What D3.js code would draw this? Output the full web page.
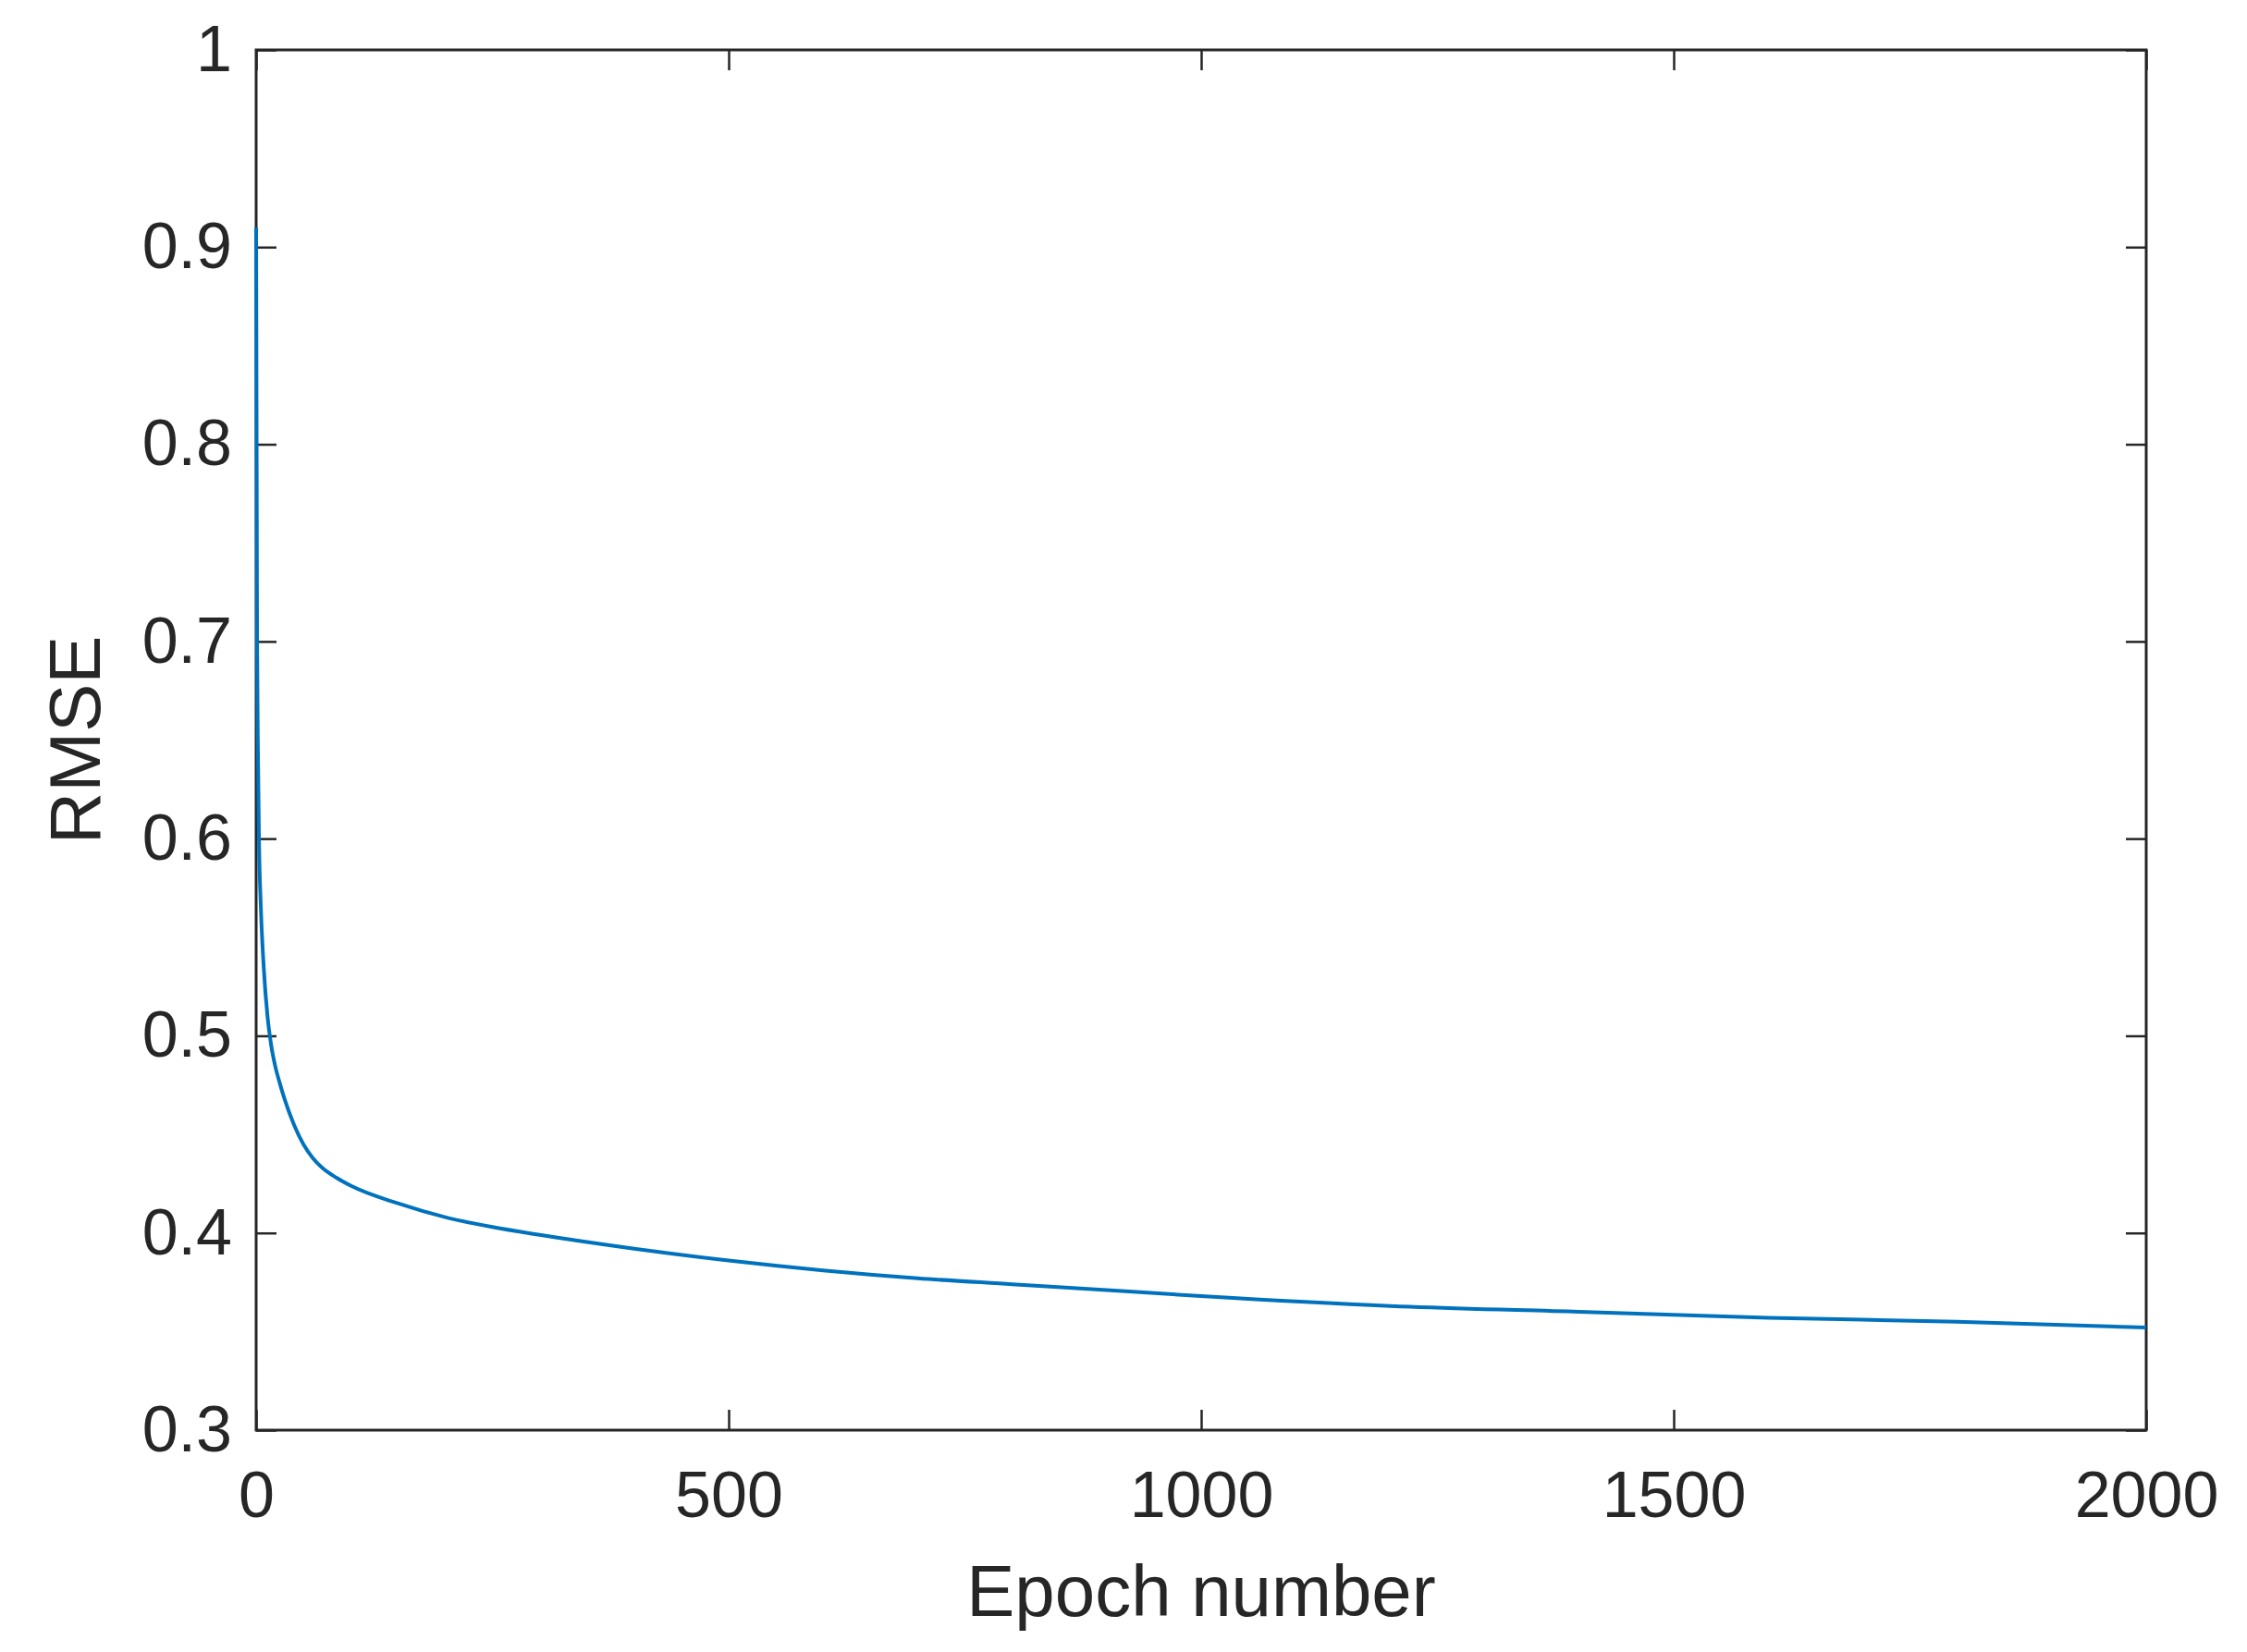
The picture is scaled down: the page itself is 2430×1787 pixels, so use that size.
<!DOCTYPE html>
<html>
<head>
<meta charset="utf-8">
<script src="https://cdn.jsdelivr.net/npm/d3@7"></script>
<style>
  body { margin: 0; background: #fff; }
  text { font-family: Arial, "Liberation Sans", sans-serif; fill: #262626; }
</style>
</head>
<body>
<svg id="chart" width="2430" height="1787"></svg>
<script>
// data
var epochs = [0, 1, 2, 3, 5, 8, 12, 16, 20, 25, 30, 40, 50, 60, 70, 85, 100, 150, 200, 250, 300, 400, 500, 600, 700, 800, 900, 1000, 1200, 1400, 1600, 1800, 2000];
var rmse   = [0.91, 0.70, 0.64, 0.60, 0.565, 0.535, 0.51, 0.495, 0.485, 0.476, 0.468, 0.455, 0.445, 0.438, 0.433, 0.428, 0.424, 0.415, 0.408, 0.403, 0.399, 0.392, 0.386, 0.381, 0.377, 0.374, 0.371, 0.368, 0.363, 0.360, 0.357, 0.355, 0.352];
var xTicks = [0, 500, 1000, 1500, 2000];
var yTicks = [0.3, 0.4, 0.5, 0.6, 0.7, 0.8, 0.9, 1];

var margin = {left: 277, right: 109, top: 54, bottom: 240};
var svg = d3.select("#chart");
var W = 2430 - margin.left - margin.right;
var H = 1787 - margin.top - margin.bottom;
var g = svg.append("g").attr("transform", "translate(" + margin.left + "," + margin.top + ")");

var x = d3.scaleLinear().domain([0, 2000]).range([0, W]);
var y = d3.scaleLinear().domain([0.3, 1]).range([H, 0]);
var tickLen = 22;

function styleAxis(sel) {
    sel.select(".domain").remove();
    sel.selectAll("line").attr("stroke", "#262626").attr("stroke-width", 2.5);
    sel.selectAll("text").style("font-size", "70px").style("fill", "#262626");
}

g.append("g").attr("transform", "translate(0," + H + ")")
    .call(d3.axisBottom(x).tickValues(xTicks).tickSize(-tickLen).tickPadding(44).tickFormat(d3.format("d")))
    .call(styleAxis);
g.append("g").attr("transform", "translate(0,0)")
    .call(d3.axisTop(x).tickValues(xTicks).tickSize(-tickLen).tickFormat(""))
    .call(styleAxis);
g.append("g")
    .call(d3.axisLeft(y).tickValues(yTicks).tickSize(-tickLen).tickPadding(26).tickFormat(d => d === 1 ? "1" : d3.format(".1f")(d)))
    .call(styleAxis);
g.append("g").attr("transform", "translate(" + W + ",0)")
    .call(d3.axisRight(y).tickValues(yTicks).tickSize(-tickLen).tickFormat(""))
    .call(styleAxis);

g.append("rect").attr("width", W).attr("height", H)
    .attr("fill", "none").attr("stroke", "#262626").attr("stroke-width", 3);

var line = d3.line().x((d, i) => x(epochs[i])).y(d => y(d)).curve(d3.curveMonotoneX);
g.append("path").datum(rmse).attr("d", line)
    .attr("fill", "none").attr("stroke", "#0072BD").attr("stroke-width", 4);

svg.append("text").attr("x", margin.left + W / 2).attr("y", 1748)
    .attr("text-anchor", "middle").style("font-size", "78px").text("Epoch number");
svg.append("text").attr("transform", "translate(108," + (margin.top + H / 2) + ") rotate(-90)")
    .attr("text-anchor", "middle").style("font-size", "78px").text("RMSE");
</script>
</body>
</html>
